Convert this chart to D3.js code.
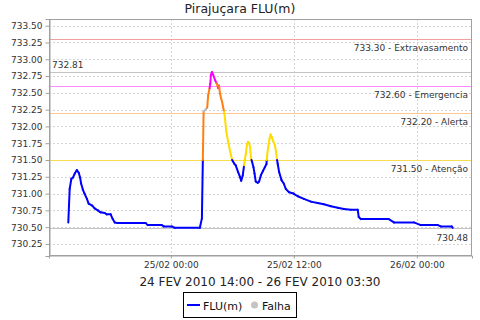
<!DOCTYPE html>
<html><head><meta charset="utf-8">
<script src="https://cdn.jsdelivr.net/npm/d3@7"></script>
<style>body{margin:0;background:#fff}svg{display:block;font-family:"DejaVu Sans",sans-serif}</style>
</head><body><svg id="c" width="480" height="320"></svg>
<script>
const chartTitle = "Pirajuçara FLU(m)";
const xAxisTitle = "24 FEV 2010 14:00 - 26 FEV 2010 03:30";
const times = [
"2010-02-24T14:00","2010-02-24T14:08","2010-02-24T14:18","2010-02-24T14:28","2010-02-24T14:38","2010-02-24T14:50",
"2010-02-24T15:01","2010-02-24T15:09","2010-02-24T15:15","2010-02-24T15:25","2010-02-24T15:35","2010-02-24T15:49",
"2010-02-24T15:59","2010-02-24T16:20","2010-02-24T16:34","2010-02-24T16:53","2010-02-24T17:09","2010-02-24T17:33",
"2010-02-24T17:45","2010-02-24T18:08","2010-02-24T18:20","2010-02-24T18:32","2010-02-24T18:49","2010-02-24T21:33",
"2010-02-24T21:45","2010-02-24T23:07","2010-02-24T23:19","2010-02-25T00:06","2010-02-25T00:23","2010-02-25T02:50",
"2010-02-25T03:02","2010-02-25T03:12","2010-02-25T03:33","2010-02-25T03:39","2010-02-25T03:47","2010-02-25T03:51",
"2010-02-25T03:55","2010-02-25T04:01","2010-02-25T04:08","2010-02-25T04:19","2010-02-25T04:29","2010-02-25T04:37",
"2010-02-25T04:42","2010-02-25T04:48","2010-02-25T04:54","2010-02-25T05:00","2010-02-25T05:06","2010-02-25T05:12",
"2010-02-25T05:17","2010-02-25T05:25","2010-02-25T05:35","2010-02-25T05:46","2010-02-25T05:59","2010-02-25T06:10",
"2010-02-25T06:20","2010-02-25T06:34","2010-02-25T06:46","2010-02-25T06:52","2010-02-25T07:01","2010-02-25T07:09",
"2010-02-25T07:13","2010-02-25T07:19","2010-02-25T07:25","2010-02-25T07:32","2010-02-25T07:38","2010-02-25T07:44",
"2010-02-25T07:50","2010-02-25T07:56","2010-02-25T08:04","2010-02-25T08:10","2010-02-25T08:17","2010-02-25T08:29",
"2010-02-25T08:37","2010-02-25T08:47","2010-02-25T09:00","2010-02-25T09:10","2010-02-25T09:20","2010-02-25T09:24",
"2010-02-25T09:30","2010-02-25T09:38","2010-02-25T09:44","2010-02-25T09:51","2010-02-25T09:59","2010-02-25T10:09",
"2010-02-25T10:16","2010-02-25T10:22","2010-02-25T10:26","2010-02-25T10:34","2010-02-25T10:48","2010-02-25T11:01",
"2010-02-25T11:13","2010-02-25T11:32","2010-02-25T11:58","2010-02-25T12:23","2010-02-25T12:59","2010-02-25T13:40",
"2010-02-25T14:19","2010-02-25T14:56","2010-02-25T15:37","2010-02-25T16:17","2010-02-25T16:53","2010-02-25T17:34",
"2010-02-25T18:14","2010-02-25T18:20","2010-02-25T18:32","2010-02-25T21:16","2010-02-25T21:46","2010-02-25T23:43",
"2010-02-26T00:23","2010-02-26T02:03","2010-02-26T02:20","2010-02-26T03:25","2010-02-26T03:30"];
const values = [
730.57,731.07,731.22,731.24,731.30,731.35,
731.31,731.24,731.15,731.06,731.00,730.92,
730.85,730.82,730.78,730.75,730.72,730.71,
730.69,730.69,730.62,730.57,730.56,730.56,
730.53,730.53,730.51,730.51,730.49,730.49,
730.63,732.22,732.28,732.47,732.57,732.64,
732.77,732.81,732.77,732.69,732.64,732.57,
732.61,732.49,732.42,732.37,732.29,732.22,
732.12,731.92,731.78,731.64,731.50,731.45,
731.42,731.32,731.24,731.19,731.27,731.42,
731.50,731.59,731.72,731.77,731.75,731.69,
731.52,731.47,731.39,731.30,731.18,731.16,
731.18,731.27,731.34,731.39,731.44,731.57,
731.69,731.82,731.88,731.84,731.78,731.72,
731.62,731.50,731.44,731.32,731.20,731.15,
731.07,731.02,731.00,730.96,730.92,730.88,
730.86,730.84,730.81,730.79,730.77,730.76,
730.76,730.65,730.62,730.62,730.57,730.57,
730.53,730.53,730.51,730.51,730.49];
const falhaTimes = ["2010-02-25T03:33"];
const yTicks = [730.25,730.50,730.75,731.00,731.25,731.50,731.75,732.00,732.25,732.50,732.75,733.00,733.25,733.50];
const xTicks = ["2010-02-25T00:00","2010-02-25T12:00","2010-02-26T00:00"];
const thresholdValues = [733.30, 732.81, 732.60, 732.20, 731.50, 730.48];
const thresholdLabels = ["733.30 - Extravasamento","732.81","732.60 - Emergencia","732.20 - Alerta","731.50 - Atenção","730.48"];
const legendLabels = ["FLU(m)","Falha"];

// styles
const thStyle = [
 {c:"#f0a0a0", side:"right", dy:11.5},
 {c:"#c4c4c4", side:"left", dy:-5},
 {c:"#ff88ff", side:"right", dy:11.5},
 {c:"#ffc890", side:"right", dy:11.5},
 {c:"#f5dc50", side:"right", dy:11.5},
 {c:"#c4c4c4", side:"right", dy:12.5}
];
const C = {blue:"#0000ff", yellow:"#ffdd00", orange:"#ff8010", magenta:"#ff00ff", gray:"#b8b8b8"};

const parse = d3.timeParse("%Y-%m-%dT%H:%M");
const data = times.map((t,i)=>({t:parse(t), v:values[i], f:falhaTimes.includes(t)}));
const svg = d3.select("#c");
const L=49, R=472, T=19, B=256;
const x = d3.scaleTime().domain([parse("2010-02-24T12:07"), parse("2010-02-26T05:23")]).range([L,R]);
const y = d3.scaleLinear().domain([730.07, 733.60]).range([B,T]);

// title
svg.append("text").attr("x",240).attr("y",13).attr("text-anchor","middle").attr("font-size",12.5).attr("fill","#222").text(chartTitle);

// grid
const g = svg.append("g");
g.selectAll(".hg").data(yTicks).join("line").attr("x1",L).attr("x2",R).attr("y1",d=>Math.round(y(d))+0.5).attr("y2",d=>Math.round(y(d))+0.5)
 .attr("stroke","#d4d4d4").attr("stroke-dasharray","2,2");
g.selectAll(".vg").data(xTicks.map(parse)).join("line").attr("y1",T).attr("y2",B).attr("x1",d=>Math.round(x(d))+0.5).attr("x2",d=>Math.round(x(d))+0.5)
 .attr("stroke","#d4d4d4").attr("stroke-dasharray","2,2");

// thresholds
thresholdValues.forEach((v,i)=>{
  const yy = Math.round(y(v))+0.5, s=thStyle[i];
  svg.append("line").attr("x1",L).attr("x2",R).attr("y1",yy).attr("y2",yy).attr("stroke",s.c).attr("stroke-width",1);
  svg.append("text").attr("x", s.side==="right"? R-4 : L+3).attr("y", yy+s.dy)
    .attr("text-anchor", s.side==="right"?"end":"start").attr("font-size",9).attr("fill","#333").text(thresholdLabels[i]);
});

// series
function band(v){ return v>=732.6?C.magenta : v>=732.2?C.orange : v>=731.5?C.yellow : C.blue; }
const segs=[];
for(let i=1;i<data.length;i++){
  const a=data[i-1], b=data[i];
  if(b.f){ segs.push({a,b,c:C.gray}); continue; }
  const lo=Math.min(a.v,b.v), hi=Math.max(a.v,b.v);
  if(lo<731.5 && hi>731.5){
    const f=(731.5-a.v)/(b.v-a.v);
    const m={t:new Date(+a.t + f*(b.t-a.t)), v:731.5};
    const up = band(hi);
    segs.push({a, b:m, c: a.v<731.5?C.blue:up});
    segs.push({a:m, b, c: b.v<731.5?C.blue:up});
  } else segs.push({a,b,c:band(b.v)});
}
svg.append("g").selectAll("line").data(segs).join("line")
 .attr("x1",d=>x(d.a.t)).attr("y1",d=>y(d.a.v)).attr("x2",d=>x(d.b.t)).attr("y2",d=>y(d.b.v))
 .attr("stroke",d=>d.c).attr("stroke-width",2).attr("stroke-linecap","round");

// frame
svg.append("rect").attr("x",L+0.5).attr("y",T+0.5).attr("width",R-L-1).attr("height",B-T-1).attr("fill","none").attr("stroke","#a0a0a0");

// axes
const ya = svg.append("g").attr("transform",`translate(${L+0.5},0)`).call(d3.axisLeft(y).tickValues(yTicks).tickFormat(d3.format(".2f")).tickSize(4).tickPadding(3));
const xa = svg.append("g").attr("transform",`translate(0,${B-0.5})`).call(d3.axisBottom(x).tickValues(xTicks.map(parse)).tickFormat(d3.timeFormat("%d/%m %H:%M")).tickSize(3).tickPadding(3));
[ya,xa].forEach(a=>{a.select(".domain").attr("stroke","#a0a0a0");a.selectAll(".tick line").attr("stroke","#a0a0a0");
 a.selectAll("text").attr("font-family","DejaVu Sans").attr("font-size",9).attr("fill","#333");});

svg.append("text").attr("x",260).attr("y",286).attr("text-anchor","middle").attr("font-size",12).attr("fill","#222").text(xAxisTitle);

// legend
const lg = svg.append("g");
lg.append("rect").attr("x",183.5).attr("y",292.5).attr("width",113).attr("height",25).attr("fill","#fff").attr("stroke","#000");
lg.append("line").attr("x1",187).attr("x2",200).attr("y1",305).attr("y2",305).attr("stroke",C.blue).attr("stroke-width",2);
lg.append("text").attr("x",203).attr("y",309.5).attr("font-size",11).attr("fill","#111").text(legendLabels[0]);
lg.append("circle").attr("cx",254.5).attr("cy",305).attr("r",3.5).attr("fill","#c4c4c4");
lg.append("text").attr("x",262).attr("y",309.5).attr("font-size",11).attr("fill","#111").text(legendLabels[1]);
</script></body></html>
